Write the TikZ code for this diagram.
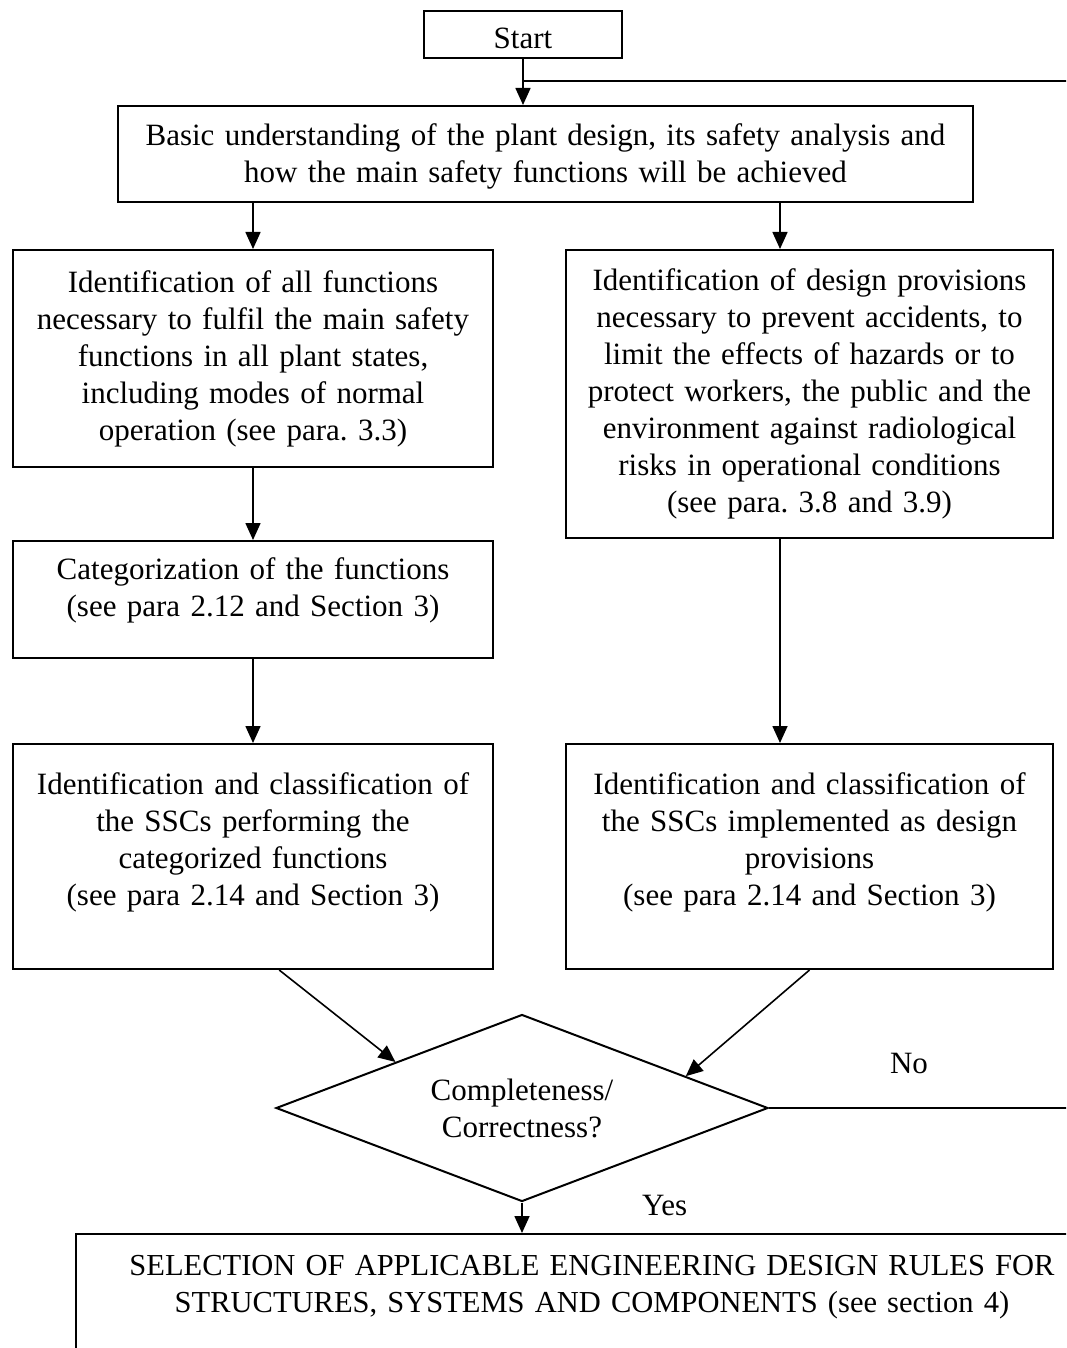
\documentclass[tikz,border=0pt]{standalone}
\usepackage{fontspec}
\setmainfont{Liberation Serif}
\usepackage{tikz}
\usetikzlibrary{arrows.meta, positioning, shapes.geometric}
\newcommand{\botpad}[1]{\rule[-#1]{0pt}{#1}}
\frenchspacing

\begin{document}
\begin{tikzpicture}[x=1pt, y=-1pt,
    every node/.style={font=\fontsize{31}{37}\selectfont},
    stepbox/.style={rectangle, draw, line width=2pt, anchor=north west, inner sep=5pt, align=center},
    checkbox/.style={diamond, draw, line width=2pt, inner sep=0pt, aspect=2.66, minimum width=492pt, minimum height=187pt, align=center},
    flowline/.style={-{Triangle[length=17pt, width=15pt]}, line width=1.6pt},
    plainline/.style={line width=1.6pt}]
    \path[use as bounding box] (0,0) rectangle (1066,1348);
    \clip (0,0) rectangle (1066,1348);
    \coordinate (rcol) at (780,0);
    \coordinate (edge) at (1080,0);
    \node[stepbox, minimum width=198pt, minimum height=47pt, inner sep=3pt, text height=28pt, text depth=0pt] (start) at (423,10) {Start};
    \node[stepbox, minimum width=855pt, minimum height=96pt, text width=845pt] (basic) at (117,105) {\rule{0pt}{26pt}Basic understanding of the plant design, its safety analysis and\\ how the main safety functions will be achieved};
    \node[stepbox, minimum width=480pt, minimum height=217pt, text width=470pt] (fun) at (12,249) {Identification of all functions\\ necessary to fulfil the main safety\\ functions in all plant states,\\ including modes of normal\\ operation (see para. 3.3)};
    \node[stepbox, minimum width=487pt, minimum height=288pt, text width=477pt] (prov) at (565,249) {Identification of design provisions\\ necessary to prevent accidents, to\\ limit the effects of hazards or to\\ protect workers, the public and the\\ environment against radiological\\ risks in operational conditions\\ (see para. 3.8 and 3.9)};
    \node[stepbox, minimum width=480pt, minimum height=117pt, text width=470pt] (cat) at (12,540) {Categorization of the functions\\ (see para 2.12 and Section 3)\botpad{24pt}};
    \node[stepbox, minimum width=480pt, minimum height=225pt, text width=470pt] (ssca) at (12,743) {Identification and classification of\\ the SSCs performing the\\ categorized functions\\ (see para 2.14 and Section 3)\botpad{35pt}};
    \node[stepbox, minimum width=487pt, minimum height=225pt, text width=477pt] (sscb) at (565,743) {Identification and classification of\\ the SSCs implemented as design\\ provisions\\ (see para 2.14 and Section 3)\botpad{35pt}};
    \node[checkbox] (check) at (522,1108) {Completeness/\\ Correctness?};
    \node[stepbox, minimum width=1032pt, minimum height=160pt, text width=1022pt, font=\fontsize{30.5}{37}\selectfont] (rules) at (75,1233) {SELECTION OF APPLICABLE ENGINEERING DESIGN RULES FOR\\ STRUCTURES, SYSTEMS AND COMPONENTS (see section 4)\botpad{61pt}};
    \coordinate (merge) at (start.south |- 0,81);
    % connectors
    \draw[flowline] (start.south) -- (start.south |- basic.north);
    \draw[plainline] (merge) -- (merge -| edge);
    \draw[flowline] (fun.north |- basic.south) -- (fun.north);
    \draw[flowline] (rcol |- basic.south) -- (rcol |- prov.north);
    \draw[flowline] (fun.south) -- (cat.north);
    \draw[flowline] (cat.south) -- (ssca.north);
    \draw[flowline] (rcol |- prov.south) -- (rcol |- sscb.north);
    \draw[flowline] (ssca.-77.5) -- (check.160.8);
    \draw[flowline] (sscb.south) -- (check.11.6);
    \draw[plainline] (check.east) -- (check.east -| edge) node[pos=0.45, above=30pt] (no) {No};
    \draw[flowline] (check.south) -- (check.south |- rules.north) node[midway, right=116pt, yshift=12pt] (yes) {Yes};
  \end{tikzpicture}
\end{document}
